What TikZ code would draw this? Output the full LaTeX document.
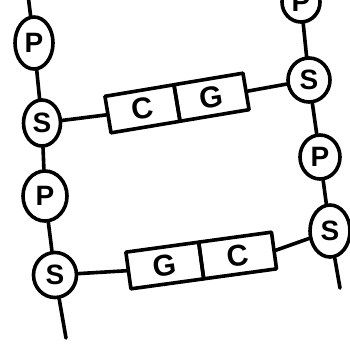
\documentclass[tikz,border=0pt]{standalone}
\usepackage{fontspec}
\setmainfont{Liberation Sans}
\usetikzlibrary{shapes.geometric}
\begin{document}
\begin{tikzpicture}[x=1pt,y=-1pt,
  every path/.style={line width=3.6pt,line cap=round,line join=round},
  sugar/.style={draw,ellipse,line width=3.6pt,inner sep=0pt,font=\fontsize{28}{28}\selectfont\bfseries},
  base/.style={draw,rectangle,line width=3.6pt,inner sep=0pt,font=\fontsize{30}{30}\selectfont\bfseries}]
\useasboundingbox (0,0) rectangle (350,345);
% left strand
\coordinate (tl) at (28,-5);
\node[sugar,minimum width=38pt,minimum height=52pt] (P1) at (34,43) {P};
\node[sugar,minimum width=37pt,minimum height=46pt] (S1) at (42,123) {S};
\node[sugar,minimum width=44pt,minimum height=50pt] (P2) at (45,196) {P};
\node[sugar,minimum width=43pt,minimum height=45pt] (S2) at (55,275) {S};
\coordinate (bl) at (66,338);
% right strand
\node[sugar,minimum width=38pt,minimum height=40pt] (P0) at (301,2) {P};
\node[sugar,minimum width=42pt,minimum height=44pt] (S3) at (309,80) {S};
\node[sugar,minimum width=40pt,minimum height=44pt] (P3) at (320,157) {P};
\node[sugar,minimum width=40pt,minimum height=52pt] (S4) at (330,231) {S};
\coordinate (br) at (340,288);
% base pairs
\node[base,rotate=9.5,minimum width=70pt,minimum height=37pt] (C1) at (142.5,108.8) {C};
\node[base,rotate=9.5,minimum width=70pt,minimum height=37pt] (G1) at (211.5,97.2) {G};
\node[base,rotate=7.8,minimum width=73.5pt,minimum height=37pt] (G2) at (164.8,265.5) {G};
\node[base,rotate=7.8,minimum width=73.5pt,minimum height=37pt] (C2) at (237.6,255.5) {C};
% backbone
\draw (tl) -- (P1);
\draw (P1) -- (S1);
\draw (S1) -- (P2);
\draw (P2) -- (S2);
\draw (S2) -- (bl);
\draw (P0) -- (S3);
\draw (S3) -- (P3);
\draw (P3) -- (S4);
\draw (S4) -- (br);
% rungs
\draw (S1) -- (C1.west);
\draw (G1.east) -- (S3);
\draw (S2) -- (G2.west);
\draw (C2.east) -- (S4);
\end{tikzpicture}
\end{document}
